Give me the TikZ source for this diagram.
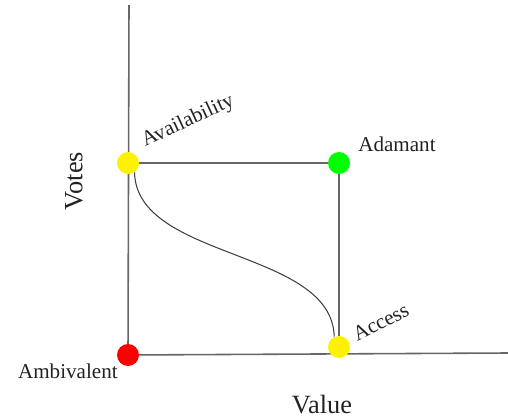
\documentclass[tikz,border=0pt]{standalone}
\usepackage{fontspec}
\setmainfont{Liberation Serif}
\usetikzlibrary{calc, backgrounds}
\definecolor{axisgrey}{HTML}{666666}
\definecolor{txtgrey}{HTML}{222222}

\begin{document}
\begin{tikzpicture}[x=0.02cm, y=0.02cm,
	dot/.style={circle, inner sep=0pt, minimum size=0.44cm},
	lbl/.style={text=txtgrey, font=\fontsize{12}{14}\selectfont, inner sep=0pt},
	axlbl/.style={text=txtgrey, font=\fontsize{15}{18}\selectfont, inner sep=0pt}]
	\useasboundingbox (0,0) rectangle (508,417);
	\coordinate (top) at (129,412);
	\coordinate (right) at (508,64);
	\node [dot, fill=red] (ambiv) at (128,62) {};
	\node [dot, fill=yellow] (avail) at (128,254) {};
	\node [dot, fill=green] (adamant) at (339,254) {};
	\node [dot, fill=yellow] (access) at (339,70) {};
	\begin{scope}[on background layer]
		\draw [axisgrey, line width=0.9pt] (top) -- (ambiv.center) -- (right);
	\end{scope}
	\draw [axisgrey, line width=0.9pt] (avail) -- (adamant) -- (access);
	\draw [black!75, line width=0.6pt] (avail.-55) .. controls +(2,-88) and +(-2,88) .. (access.115);
	\path ($(avail)+(17,16)$) node [lbl, anchor=base west, rotate=25] (availtxt) {Availability};
	\path ($(adamant)+(19,12)$) node [lbl, anchor=base west] (adamanttxt) {Adamant};
	\path ($(access)+(18,5)$) node [lbl, anchor=base west, rotate=27] (accesstxt) {Access};
	\path ($(ambiv)+(-10,-23)$) node [lbl, anchor=base east] (ambivtxt) {Ambivalent};
	\node [axlbl, rotate=90] (votes) at (74,236) {Votes};
	\node [axlbl, anchor=base] (value) at (322,4) {Value};
\end{tikzpicture}
\end{document}
